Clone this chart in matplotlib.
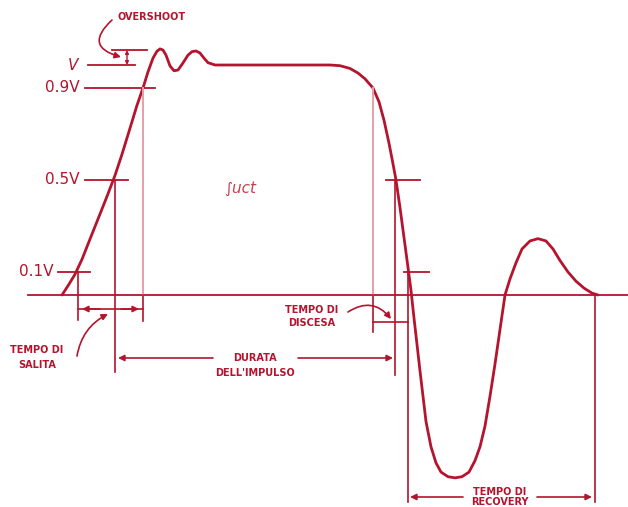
import numpy as np
import matplotlib.pyplot as plt

## waveform (time in drawing units, voltage as fraction of V)
wave_t = [62, 68, 75, 82, 90, 100, 108, 115, 122, 130, 137, 143, 148, 153, 157, 160, 163,
          166, 170, 174, 178, 183, 188, 192, 196, 200, 204, 208, 215, 330, 340, 350, 358,
          365, 373, 379, 384, 389, 393, 396, 400, 404, 408, 411, 414, 420, 426, 431, 436,
          441, 448, 455, 462, 469, 475, 480, 485, 490, 495, 500, 505, 510, 516, 522, 530,
          538, 546, 553, 560, 568, 576, 584, 592, 598]
wave_v = [0.0, 0.04, 0.09, 0.155, 0.243, 0.352, 0.44, 0.52, 0.612, 0.725, 0.825, 0.9,
          0.97, 1.03, 1.06, 1.07, 1.065, 1.043, 0.996, 0.975, 0.978, 1.009, 1.043, 1.058,
          1.061, 1.052, 1.03, 1.01, 1.0, 1.0, 0.997, 0.985, 0.965, 0.94, 0.9, 0.84, 0.76,
          0.66, 0.57, 0.5, 0.38, 0.25, 0.12, 0.02, -0.1, -0.33, -0.55, -0.66, -0.73, -0.77,
          -0.79, -0.795, -0.79, -0.77, -0.72, -0.66, -0.57, -0.44, -0.3, -0.15, 0.0, 0.07,
          0.14, 0.2, 0.235, 0.245, 0.235, 0.2, 0.15, 0.1, 0.06, 0.03, 0.008, 0.0]

level_labels = ["V", "0.9V", "0.5V", "0.1V"]
level_vals = [1.0, 0.9, 0.5, 0.1]
overshoot_v = 1.065

# crossing times of the levels on the rising and falling edge
rise_t = {0.1: 78, 0.5: 115, 0.9: 143}
fall_t = {0.1: 408, 0.5: 395, 0.9: 373}
zero_fall = 408
recovery_end = 595

red = "#b4142d"
pink = "#e6a0aa"

Y0, SC = 295, 230
def Y(py):
    return (Y0 - py) / SC

fig = plt.figure(figsize=(6.28, 5.07), dpi=100)
ax = fig.add_axes([0, 0, 1, 1])
ax.set_xlim(0, 628)
ax.set_ylim(Y(507), Y(0))
ax.axis("off")

# baseline
ax.plot([28, 628], [0, 0], color=red, lw=1.3)

# waveform
ax.plot(wave_t, wave_v, color=red, lw=2.0, solid_joinstyle="round", solid_capstyle="round")

# level ticks and labels
tick_x = {1.0: (88, 135), 0.9: (85, 155), 0.5: (85, 128), 0.1: (58, 90)}
label_x = {1.0: 78, 0.9: 80, 0.5: 80, 0.1: 54}
for lab, v in zip(level_labels, level_vals):
    x0, x1 = tick_x[v]
    ax.plot([x0, x1], [v, v], color=red, lw=1.3)
    ax.text(label_x[v], v, lab, color=red, fontsize=11, ha="right", va="center",
            style="italic" if lab == "V" else "normal")
ax.plot([112, 147], [overshoot_v, overshoot_v], color=red, lw=1.3)
ax.annotate("", xy=(127, overshoot_v), xytext=(127, 1.0),
            arrowprops=dict(arrowstyle="<|-|>", color=red, lw=1, mutation_scale=5,
                            shrinkA=0, shrinkB=0))

# falling edge ticks
ax.plot([386, 420], [0.5, 0.5], color=red, lw=1.3)
ax.plot([404, 429], [0.1, 0.1], color=red, lw=1.3)

# verticals, rising edge
ax.plot([rise_t[0.1]] * 2, [0.1, Y(320)], color=red, lw=1.2)
ax.plot([rise_t[0.5]] * 2, [0.5, Y(372)], color=red, lw=1.2)
ax.plot([rise_t[0.9]] * 2, [0.9, 0], color=pink, lw=1.4)
ax.plot([rise_t[0.9]] * 2, [0, Y(321)], color=red, lw=1.2)

# verticals, falling edge
ax.plot([fall_t[0.9]] * 2, [0.9, 0], color=pink, lw=1.4)
ax.plot([fall_t[0.9]] * 2, [0, Y(332)], color=red, lw=1.2)
ax.plot([fall_t[0.5]] * 2, [0.5, Y(375)], color=red, lw=1.2)
ax.plot([zero_fall] * 2, [0.1, Y(502)], color=red, lw=1.2)
ax.plot([recovery_end] * 2, [0, Y(502)], color=red, lw=1.2)

arrow_kw = dict(arrowstyle="-|>", color=red, lw=1.2, mutation_scale=9, shrinkA=0, shrinkB=0)
small = dict(color=red, fontsize=7, fontweight="bold", ha="center", va="center")

# rise time
ax.plot([rise_t[0.1], rise_t[0.9]], [Y(309)] * 2, color=red, lw=1.2)
ax.annotate("", xy=(82, Y(309)), xytext=(100, Y(309)), arrowprops=arrow_kw)
ax.annotate("", xy=(139, Y(309)), xytext=(121, Y(309)), arrowprops=arrow_kw)
ax.text(37, Y(350), "TEMPO DI", **small)
ax.text(37, Y(365), "SALITA", **small)
ax.annotate("", xy=(108, Y(314)), xytext=(77, Y(356)),
            arrowprops=dict(arrow_kw, connectionstyle="arc3,rad=-0.25"))

# overshoot
ax.text(118, Y(17), "OVERSHOOT", **dict(small, ha="left"))
ax.annotate("", xy=(121, Y(57)), xytext=(112, Y(20)),
            arrowprops=dict(arrow_kw, connectionstyle="arc3,rad=0.9"))

# pulse duration
ax.annotate("", xy=(118, Y(358)), xytext=(213, Y(358)), arrowprops=arrow_kw)
ax.annotate("", xy=(393, Y(358)), xytext=(298, Y(358)), arrowprops=arrow_kw)
ax.text(255, Y(358), "DURATA", **small)
ax.text(255, Y(373), "DELL'IMPULSO", **small)

# fall time
ax.plot([fall_t[0.9], zero_fall], [Y(322)] * 2, color=red, lw=1.2)
ax.text(312, Y(310), "TEMPO DI", **small)
ax.text(312, Y(323), "DISCESA", **small)
ax.annotate("", xy=(391, Y(319)), xytext=(348, Y(312)),
            arrowprops=dict(arrow_kw, connectionstyle="arc3,rad=-0.45"))

# recovery time
ax.annotate("", xy=(410, Y(497)), xytext=(463, Y(497)), arrowprops=arrow_kw)
ax.annotate("", xy=(592, Y(497)), xytext=(537, Y(497)), arrowprops=arrow_kw)
ax.text(500, Y(492), "TEMPO DI", **small)
ax.text(500, Y(502), "RECOVERY", **small)

# integral label
ax.text(240, Y(188), "\u222Buct", color="#c84050", fontsize=11, style="italic",
        ha="center", va="center")

plt.savefig("out.png", dpi=100)
